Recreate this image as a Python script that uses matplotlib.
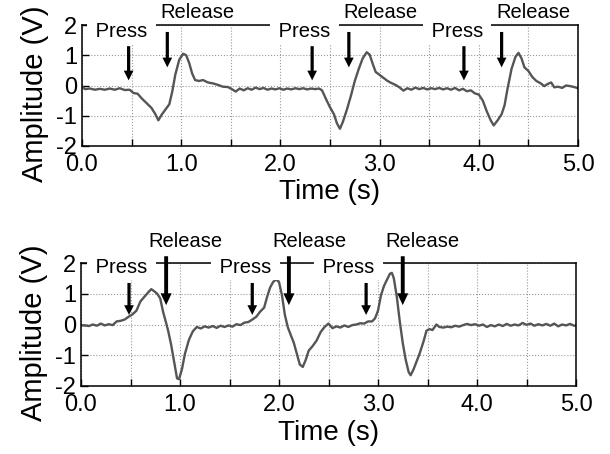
import numpy as np
import matplotlib
matplotlib.use("Agg")
import matplotlib.pyplot as plt

plt.rcParams['font.family'] = ['Liberation Sans', 'DejaVu Sans']
plt.rcParams['axes.unicode_minus'] = False

#------------------------------------- data -------------------------------------#

t_top = [0.00, 0.03, 0.08, 0.13, 0.18, 0.23, 0.28, 0.33, 0.38, 0.43, 0.48, 0.52, 0.56, 0.60, 0.65,
         0.70, 0.74, 0.77, 0.80, 0.84, 0.88, 0.91, 0.94, 0.98, 1.02, 1.05, 1.08, 1.11, 1.14, 1.18,
         1.22, 1.27, 1.32, 1.37, 1.42, 1.47, 1.51, 1.55, 1.59, 1.63, 1.67, 1.71, 1.75, 1.79, 1.83,
         1.87, 1.91, 1.95, 1.99, 2.03, 2.07, 2.11, 2.15, 2.19, 2.23, 2.27, 2.31, 2.35, 2.39, 2.42,
         2.46, 2.50, 2.54, 2.57, 2.60, 2.63, 2.67, 2.71, 2.75, 2.79, 2.83, 2.87, 2.90, 2.93, 2.96,
         3.00, 3.04, 3.08, 3.12, 3.16, 3.20, 3.24, 3.28, 3.32, 3.36, 3.40, 3.44, 3.48, 3.52, 3.56,
         3.60, 3.64, 3.68, 3.72, 3.76, 3.80, 3.84, 3.88, 3.92, 3.96, 4.00, 4.04, 4.08, 4.12, 4.15,
         4.19, 4.23, 4.26, 4.29, 4.33, 4.37, 4.40, 4.43, 4.46, 4.50, 4.54, 4.58, 4.62, 4.66, 4.70,
         4.73, 4.76, 4.80, 4.84, 4.88, 4.92, 4.96, 5.00]
v_top = [-0.03, -0.12, -0.10, -0.14, -0.11, -0.14, -0.10, -0.14, -0.09, -0.15, -0.14, -0.25, -0.27, -0.42, -0.58,
         -0.74, -0.95, -1.15, -0.98, -0.80, -0.62, -0.20, 0.35, 0.85, 1.05, 1.00, 0.75, 0.40, 0.18, 0.15,
         0.18, 0.10, 0.07, 0.02, -0.04, -0.05, -0.12, -0.20, -0.10, -0.16, -0.09, -0.14, -0.07, -0.12, -0.08,
         -0.14, -0.10, -0.13, -0.09, -0.14, -0.10, -0.13, -0.09, -0.12, -0.09, -0.13, -0.10, -0.12, -0.10, -0.16,
         -0.45, -0.72, -0.95, -1.25, -1.43, -1.20, -0.80, -0.35, 0.15, 0.55, 0.90, 1.10, 1.02, 0.72, 0.45,
         0.35, 0.25, 0.15, 0.08, 0.02, -0.06, -0.17, -0.09, -0.14, -0.07, -0.12, -0.08, -0.13, -0.09, -0.12,
         -0.08, -0.13, -0.09, -0.14, -0.08, -0.16, -0.11, -0.19, -0.16, -0.26, -0.30, -0.50, -0.85, -1.15, -1.32,
         -1.15, -0.95, -0.65, -0.10, 0.55, 0.95, 1.08, 0.90, 0.60, 0.48, 0.28, 0.15, 0.08, -0.02, 0.06,
         0.10, -0.06, -0.04, -0.08, 0.00, -0.02, -0.05, -0.09]

t_bot = [0.00, 0.04, 0.08, 0.12, 0.16, 0.20, 0.24, 0.28, 0.32, 0.36, 0.40, 0.44, 0.48, 0.52, 0.56,
         0.60, 0.64, 0.68, 0.71, 0.74, 0.77, 0.80, 0.83, 0.86, 0.88, 0.91, 0.94, 0.97, 0.99, 1.02,
         1.05, 1.09, 1.13, 1.17, 1.21, 1.25, 1.29, 1.33, 1.37, 1.41, 1.45, 1.49, 1.53, 1.57, 1.61,
         1.65, 1.69, 1.73, 1.77, 1.81, 1.85, 1.88, 1.91, 1.94, 1.97, 2.00, 2.03, 2.06, 2.09, 2.12,
         2.15, 2.18, 2.21, 2.24, 2.27, 2.30, 2.34, 2.38, 2.42, 2.46, 2.50, 2.54, 2.58, 2.62, 2.66,
         2.70, 2.74, 2.78, 2.82, 2.86, 2.90, 2.94, 2.97, 3.00, 3.03, 3.06, 3.09, 3.12, 3.14, 3.16,
         3.19, 3.22, 3.25, 3.28, 3.31, 3.33, 3.36, 3.39, 3.42, 3.46, 3.49, 3.52, 3.55, 3.59, 3.62,
         3.66, 3.70, 3.74, 3.78, 3.82, 3.86, 3.90, 3.94, 3.98, 4.02, 4.06, 4.10, 4.14, 4.18, 4.22,
         4.26, 4.30, 4.34, 4.38, 4.42, 4.46, 4.50, 4.54, 4.58, 4.62, 4.66, 4.70, 4.74, 4.78, 4.82,
         4.86, 4.90, 4.94, 4.98, 5.00]
v_bot = [-0.02, -0.03, -0.05, 0.00, -0.04, 0.03, -0.03, 0.01, -0.02, 0.10, 0.12, 0.16, 0.25, 0.33, 0.45,
         0.75, 0.90, 1.05, 1.15, 1.08, 1.00, 0.85, 0.40, 0.05, -0.20, -0.65, -1.20, -1.75, -1.78, -1.45,
         -0.95, -0.50, -0.22, -0.08, -0.13, -0.06, -0.10, -0.05, -0.11, -0.04, -0.08, -0.03, -0.07, 0.01, -0.02,
         0.06, 0.08, 0.16, 0.25, 0.42, 0.55, 0.90, 1.20, 1.38, 1.47, 1.38, 0.95, 0.30, -0.10, -0.35,
         -0.60, -0.95, -1.30, -1.38, -1.15, -0.85, -0.70, -0.52, -0.25, -0.08, 0.03, -0.12, -0.06, -0.10, -0.03,
         -0.08, -0.02, 0.00, 0.04, 0.03, 0.10, 0.10, 0.20, 0.45, 0.95, 1.25, 1.45, 1.65, 1.68, 1.50,
         0.90, 0.10, -0.60, -1.15, -1.55, -1.65, -1.45, -1.20, -0.95, -0.55, -0.20, -0.15, -0.18, 0.00, -0.08,
         -0.10, -0.07, -0.09, -0.04, -0.07, -0.02, 0.02, -0.02, 0.01, -0.04, 0.00, -0.08, -0.02, -0.06, 0.00,
         -0.05, 0.02, -0.04, 0.00, -0.03, 0.05, -0.01, 0.03, -0.04, 0.01, -0.03, 0.02, -0.04, 0.03, -0.06,
         0.00, -0.03, 0.02, -0.04, -0.03]

# annotation positions (x in s, y in V)
press_top_x = [0.47, 2.32, 3.85]
release_top_x = [0.86, 2.69, 4.23]
press_top_text_x = [0.40, 2.24, 3.78]
release_top_text_x = [1.16, 3.01, 4.55]

press_bot_x = [0.485, 1.73, 2.88]
release_bot_x = [0.86, 2.10, 3.25]
press_bot_text_x = [0.41, 1.66, 2.70]
release_bot_text_x = [1.05, 2.31, 3.45]

x_ticks = np.arange(0, 5.01, 0.5)
x_ticklabels = ["0.0", "", "1.0", "", "2.0", "", "3.0", "", "4.0", "", "5.0"]
y_ticks = [-2, -1, 0, 1, 2]

#------------------------------------- drawing -------------------------------------#

fig = plt.figure(figsize=(6.1, 4.54), dpi=100)
ax1 = fig.add_axes([82/610, 1-146/454, 496/610, 121/454])
ax2 = fig.add_axes([81/610, 1-386/454, 495/610, 123/454])

for ax, t, v in [(ax1, t_top, v_top), (ax2, t_bot, v_bot)]:
    ax.plot(t, v, color="#555555", lw=1.7)
    ax.set_xlim(0, 5)
    ax.set_ylim(-2, 2)
    ax.set_xticks(x_ticks)
    ax.set_xticklabels(x_ticklabels)
    ax.set_yticks(y_ticks)
    ax.tick_params(direction="in", length=5, width=1, labelsize=17)
    ax.tick_params(axis="x", pad=5.5)
    ax.grid(True, color="#999999", ls=":", lw=0.8)
    for s in ax.spines.values():
        s.set_linewidth(1.1)
    ax.set_xlabel("Time (s)", fontsize=20)
    ax.set_ylabel("Amplitude (V)", fontsize=21)
    ax.yaxis.set_label_coords(-0.067, 0.435)

ax1.xaxis.set_label_coords(0.5, -0.27)
ax2.xaxis.set_label_coords(0.5, -0.275)

box = dict(boxstyle="square,pad=0.15", fc="white", ec="none")
arrow_small = dict(facecolor="black", edgecolor="none", width=2.3, headwidth=7, headlength=7, shrink=0)
arrow_big = dict(facecolor="black", edgecolor="none", width=2.8, headwidth=8, headlength=8.5, shrink=0)

# top panel
for i in range(3):
    ax1.text(press_top_text_x[i], 1.6, " Press ", ha="center", va="baseline", fontsize=14.5,
             bbox=box, zorder=4, clip_on=False)
    ax1.text(release_top_text_x[i], 2.23, "Release", ha="center", va="baseline", fontsize=14.5,
             clip_on=False)
    ax1.annotate("", xy=(press_top_x[i], 0.17), xytext=(press_top_x[i], 1.3),
                 arrowprops=arrow_small, annotation_clip=False)
    ax1.annotate("", xy=(release_top_x[i], 0.6), xytext=(release_top_x[i], 1.77),
                 arrowprops=arrow_small, annotation_clip=False)

# bottom panel
for i in range(3):
    ax2.text(press_bot_text_x[i], 1.67, " Press ", ha="center", va="baseline", fontsize=14.5,
             bbox=box, zorder=4, clip_on=False)
    ax2.text(release_bot_text_x[i], 2.52, "Release", ha="center", va="baseline", fontsize=14.5,
             clip_on=False)
    ax2.annotate("", xy=(press_bot_x[i], 0.31), xytext=(press_bot_x[i], 1.35),
                 arrowprops=arrow_small, annotation_clip=False)
    ax2.annotate("", xy=(release_bot_x[i], 0.63), xytext=(release_bot_x[i], 2.22),
                 arrowprops=arrow_big, annotation_clip=False, zorder=5)

plt.savefig("out.png", dpi=100)
